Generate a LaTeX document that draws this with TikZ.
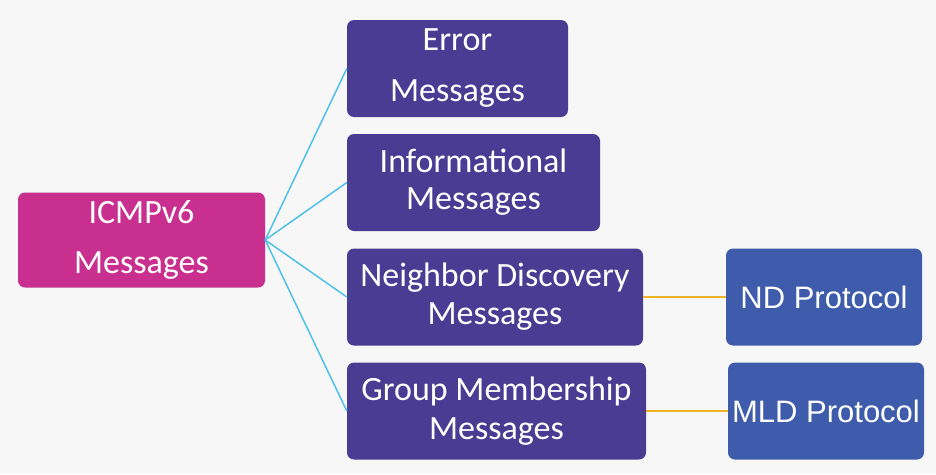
\documentclass[tikz,border=0pt]{standalone}
\usepackage{xcolor}
\usepackage{fontspec}
\setmainfont{Carlito}
\newfontfamily\protofont{Liberation Sans}
\usepackage{tikz}
\usetikzlibrary{positioning}
\definecolor{icmpmag}{HTML}{C92F8F}
\definecolor{msgpurple}{HTML}{4B3C93}
\definecolor{protoblue}{HTML}{3E5CAB}
\definecolor{fanblue}{HTML}{4FC0EA}
\definecolor{linkgold}{HTML}{F0B323}
\definecolor{bggray}{HTML}{F7F7F7}
\begin{document}
\begin{tikzpicture}[x=1pt,y=-1pt,
		box/.style={rounded corners=7pt,text=white,align=center,inner sep=0pt},
		msgbox/.style={box,fill=msgpurple,minimum height=97pt},
		protobox/.style={box,fill=protoblue,minimum height=97pt,minimum width=196pt,font=\protofont\fontsize{31}{36}\selectfont},
		fan/.style={fanblue,line width=1.5pt},
		link/.style={linkgold,line width=1.6pt}]
		\fill[bggray] (0,0) rectangle (936,474);
		\useasboundingbox (0,0) rectangle (936,474);
		\node[box,fill=icmpmag,minimum width=247pt,minimum height=95pt,font=\fontsize{34}{50}\selectfont] (icmp) at (141.5,240) {ICMPv6\\Messages};
		\node[msgbox,minimum width=221pt,font=\fontsize{34}{51}\selectfont] (err) at (457.5,68.5) {Error\\Messages};
		\node[msgbox,minimum width=253pt,font=\fontsize{34}{37}\selectfont] (info) at (473.5,182.5) {Informational\\Messages};
		\node[msgbox,minimum width=296pt,font=\fontsize{34}{38}\selectfont] (nd) at (495,297) {Neighbor Discovery\\Messages};
		\node[msgbox,minimum width=299pt,font=\fontsize{34}{39}\selectfont] (grp) at (496.5,411) {Group Membership\\Messages};
		\node[protobox] (ndp) at (824,297) {ND Protocol};
		\node[protobox] (mld) at (826,411) {MLD Protocol};
		% fan out of ICMPv6
		\draw[fan] (icmp.east) -- (err.west);
		\draw[fan] (icmp.east) -- (info.west);
		\draw[fan] (icmp.east) -- (nd.west);
		\draw[fan] (icmp.east) -- (grp.west);
		% protocols
		\draw[link] (nd.east) -- (ndp.west);
		\draw[link] (grp.east) -- (mld.west);
	\end{tikzpicture}
\end{document}
